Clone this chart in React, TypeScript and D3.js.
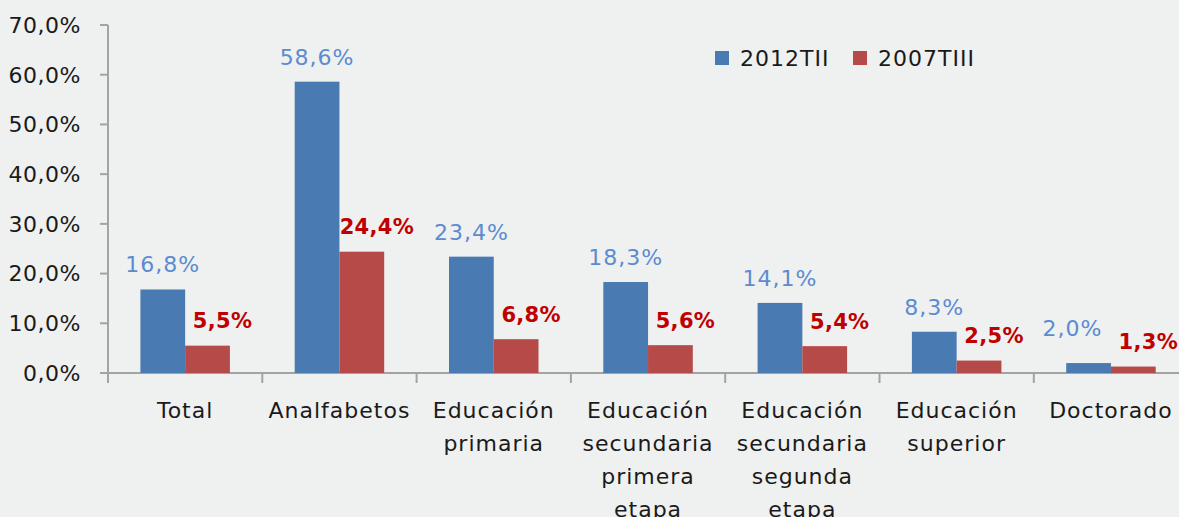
import React from "react";
import * as d3 from "d3";

const categories: string[] = [
  "Total",
  "Analfabetos",
  "Educación\nprimaria",
  "Educación\nsecundaria\nprimera\netapa",
  "Educación\nsecundaria\nsegunda\netapa",
  "Educación\nsuperior",
  "Doctorado",
];
const seriesNames: string[] = ["2012TII", "2007TIII"];
const values2012TII: number[] = [16.8, 58.6, 23.4, 18.3, 14.1, 8.3, 2.0];
const values2007TIII: number[] = [5.5, 24.4, 6.8, 5.6, 5.4, 2.5, 1.3];
const yTicks: number[] = [0, 10, 20, 30, 40, 50, 60, 70];

const W = 1179;
const H = 517;
const FONT = "'DejaVu Sans', sans-serif";
const barColors = ["#4a7ab2", "#b54a48"];
const labelColors = ["#5b8bd0", "#c00000"];
const axisColor = "#a3a3a3";
const textColor = "#1a1a1a";

export default function App() {
  const x0 = 108;
  const step = 154.3;
  const x = d3
    .scaleBand<string>()
    .domain(categories)
    .range([x0, x0 + step * categories.length])
    .paddingInner(0.42)
    .paddingOuter(0.21);
  const xs = d3.scaleBand<string>().domain(seriesNames).range([0, x.bandwidth()]);
  const y = d3.scaleLinear().domain([0, 70]).range([373, 25]);
  const fmt = (v: number) => d3.format(".1f")(v).replace(".", ",") + "%";
  const series = [values2012TII, values2007TIII];
  const labelDx = [0, 15];
  const approxW = (s: string, fs: number) => s.length * fs * 0.68;

  // label positions with a simple overlap avoidance (as Excel nudges close labels)
  const labelPos = categories.map((c, i) => {
    const pos = series.map((vals, s) => ({
      x: (x(c) as number) + (xs(seriesNames[s]) as number) + xs.bandwidth() / 2 + labelDx[s],
      y: y(vals[i]) - 25,
    }));
    const bw = approxW(fmt(series[0][i]), 22) / 2;
    const rw = approxW(fmt(series[1][i]), 21) / 2;
    const gap = pos[1].x - rw - (pos[0].x + bw);
    if (gap < 8 && Math.abs(pos[0].y - pos[1].y) < 22) {
      pos[0].x -= 16;
      pos[0].y -= 10;
    }
    return pos;
  });

  return (
    <svg
      width={W}
      height={H}
      style={{ position: "fixed", left: 0, top: 0, display: "block", background: "#eff0f0" }}
      fontFamily={FONT}
    >
      <rect x={0} y={0} width={W} height={H} fill="#eff0f0" />
      {/* y axis */}
      <line x1={x0} x2={x0} y1={y(70)} y2={y(0) + 10} stroke={axisColor} strokeWidth={2} />
      {yTicks.map((t) => (
        <g key={t}>
          <line x1={x0 - 8} x2={x0} y1={y(t)} y2={y(t)} stroke={axisColor} strokeWidth={2} />
          <text x={81} y={y(t)} dy="0.36em" textAnchor="end" fontSize={22} letterSpacing={0.5} fill={textColor}>
            {fmt(t)}
          </text>
        </g>
      ))}
      {/* x axis */}
      <line x1={x0 - 8} x2={W} y1={y(0)} y2={y(0)} stroke={axisColor} strokeWidth={2} />
      {categories.map((c, i) => (
        <line
          key={"t" + i}
          x1={x0 + step * (i + 1)}
          x2={x0 + step * (i + 1)}
          y1={y(0)}
          y2={y(0) + 10}
          stroke={axisColor}
          strokeWidth={2}
        />
      ))}
      {/* bars */}
      {categories.map((c, i) => (
        <g key={"b" + i}>
          {series.map((vals, s) => {
            const bx = (x(c) as number) + (xs(seriesNames[s]) as number);
            return (
              <rect
                key={s}
                x={bx}
                y={y(vals[i])}
                width={xs.bandwidth()}
                height={y(0) - y(vals[i])}
                fill={barColors[s]}
              />
            );
          })}
        </g>
      ))}
      {/* data labels */}
      {categories.map((c, i) => (
        <g key={"l" + i}>
          {series.map((vals, s) => (
            <text
              key={s}
              x={labelPos[i][s].x}
              y={labelPos[i][s].y}
              dy="0.36em"
              textAnchor="middle"
              fontSize={s === 0 ? 22 : 21}
              letterSpacing={s === 0 ? 1 : 0.3}
              fontWeight={s === 0 ? "normal" : "bold"}
              fill={labelColors[s]}
            >
              {fmt(vals[i])}
            </text>
          ))}
        </g>
      ))}
      {/* category labels */}
      {categories.map((c, i) => (
        <text
          key={"c" + i}
          x={(x(c) as number) + x.bandwidth() / 2}
          y={418}
          textAnchor="middle"
          fontSize={22}
          letterSpacing={1}
          fill={textColor}
        >
          {c.split("\n").map((line, k) => (
            <tspan key={k} x={(x(c) as number) + x.bandwidth() / 2} dy={k === 0 ? 0 : 33}>
              {line}
            </tspan>
          ))}
        </text>
      ))}
      {/* legend */}
      {seriesNames.map((n, s) => {
        const lx = [715, 853][s];
        return (
          <g key={"lg" + s}>
            <rect x={lx} y={51} width={14} height={14} fill={barColors[s]} />
            <text x={lx + 25} y={58} dy="0.36em" fontSize={22} letterSpacing={1} fill={textColor}>
              {n}
            </text>
          </g>
        );
      })}
    </svg>
  );
}
